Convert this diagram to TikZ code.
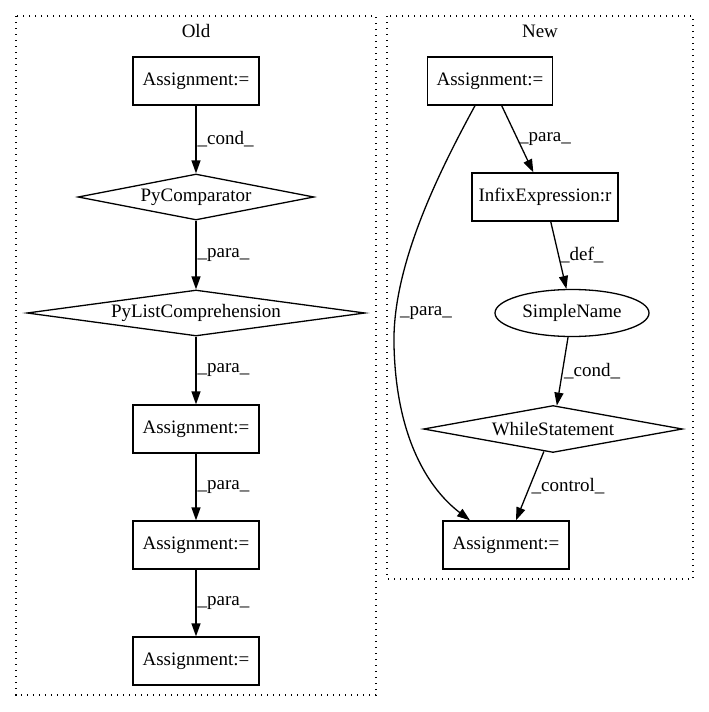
\documentclass[tikz,border=0pt]{standalone}
\usepackage{fontspec}
\setmainfont{Liberation Serif}
\usetikzlibrary{shapes.geometric,arrows.meta}

\tikzstyle{stmt}=[rectangle,
                  draw,
                  line width=1.3pt,
                  inner sep=0pt,
                  minimum height=48pt,
                  align=center]
\tikzstyle{cmpnode}=[diamond,
                     draw,
                     line width=1.3pt,
                     inner sep=0pt,
                     minimum height=46pt]
\tikzstyle{namenode}=[ellipse,
                      draw,
                      line width=1.3pt,
                      inner sep=0pt,
                      minimum width=154pt,
                      minimum height=47pt]
\tikzstyle{cluster}=[draw, line width=1.3pt, dash pattern=on 1.4pt off 4.6pt]
\tikzstyle{flow}=[-{Triangle[length=13pt,width=9pt]}, line width=1.3pt]
\tikzstyle{lbl}=[right, inner sep=1pt]

\begin{document}
\begin{tikzpicture}[x=1pt, y=-1pt, font=\fontsize{19}{23}\selectfont]
    \useasboundingbox (0,0) rectangle (709,712);

    % clusters
    \draw [cluster] (16,16) rectangle (376,695);
    \node (oldtitle) at (196,31) {Old};
    \draw [cluster] (387,16) rectangle (693,579);
    \node (newtitle) at (540,31) {New};

    % old version
    \node [stmt, minimum width=126pt] (oa1) at (196,81) {Assignment:=};
    \node [cmpnode, aspect=5.1, minimum width=236pt] (ocmp) at (196,197) {PyComparator};
    \node [cmpnode, aspect=7.3, minimum width=338pt] (olist) at (196,313) {PyListComprehension};
    \node [stmt, minimum width=126pt] (oa2) at (196,429) {Assignment:=};
    \node [stmt, minimum width=126pt] (oa3) at (196,545) {Assignment:=};
    \node [stmt, minimum width=126pt] (oa4) at (196,661) {Assignment:=};

    \draw [flow] (oa1) -- node [lbl] {\_cond\_} (ocmp);
    \draw [flow] (ocmp) -- node [lbl] {\_para\_} (olist);
    \draw [flow] (olist) -- node [lbl] {\_para\_} (oa2);
    \draw [flow] (oa2) -- node [lbl] {\_para\_} (oa3);
    \draw [flow] (oa3) -- node [lbl] {\_para\_} (oa4);

    % new version
    \node [stmt, minimum width=125pt] (na1) at (490,81) {Assignment:=};
    \node [stmt, minimum width=146pt] (infix) at (545,197) {InfixExpression:r};
    \node [namenode] (sname) at (572,313) {SimpleName};
    \node [cmpnode, aspect=5.5, minimum width=259pt, minimum height=47pt] (wstmt) at (553,429) {WhileStatement};
    \node [stmt, minimum width=126pt] (na2) at (506,545) {Assignment:=};

    \draw [flow] (na1) -- node [lbl] {\_para\_} (infix);
    \draw [flow] (infix) -- node [lbl] {\_def\_} (sname);
    \draw [flow] (sname) -- node [lbl] {\_cond\_} (wstmt);
    \draw [flow] (wstmt) -- node [lbl] {\_control\_} (na2);
    \draw [flow] ([xshift=-15pt]na1.south) .. controls (440,170) and (392,265) .. (394,345)
        .. controls (396,440) and (430,490) .. ([xshift=-36pt]na2.north);
    \node [right, inner sep=1pt] (curvelbl) at (399,313) {\_para\_};
\end{tikzpicture}
\end{document}
